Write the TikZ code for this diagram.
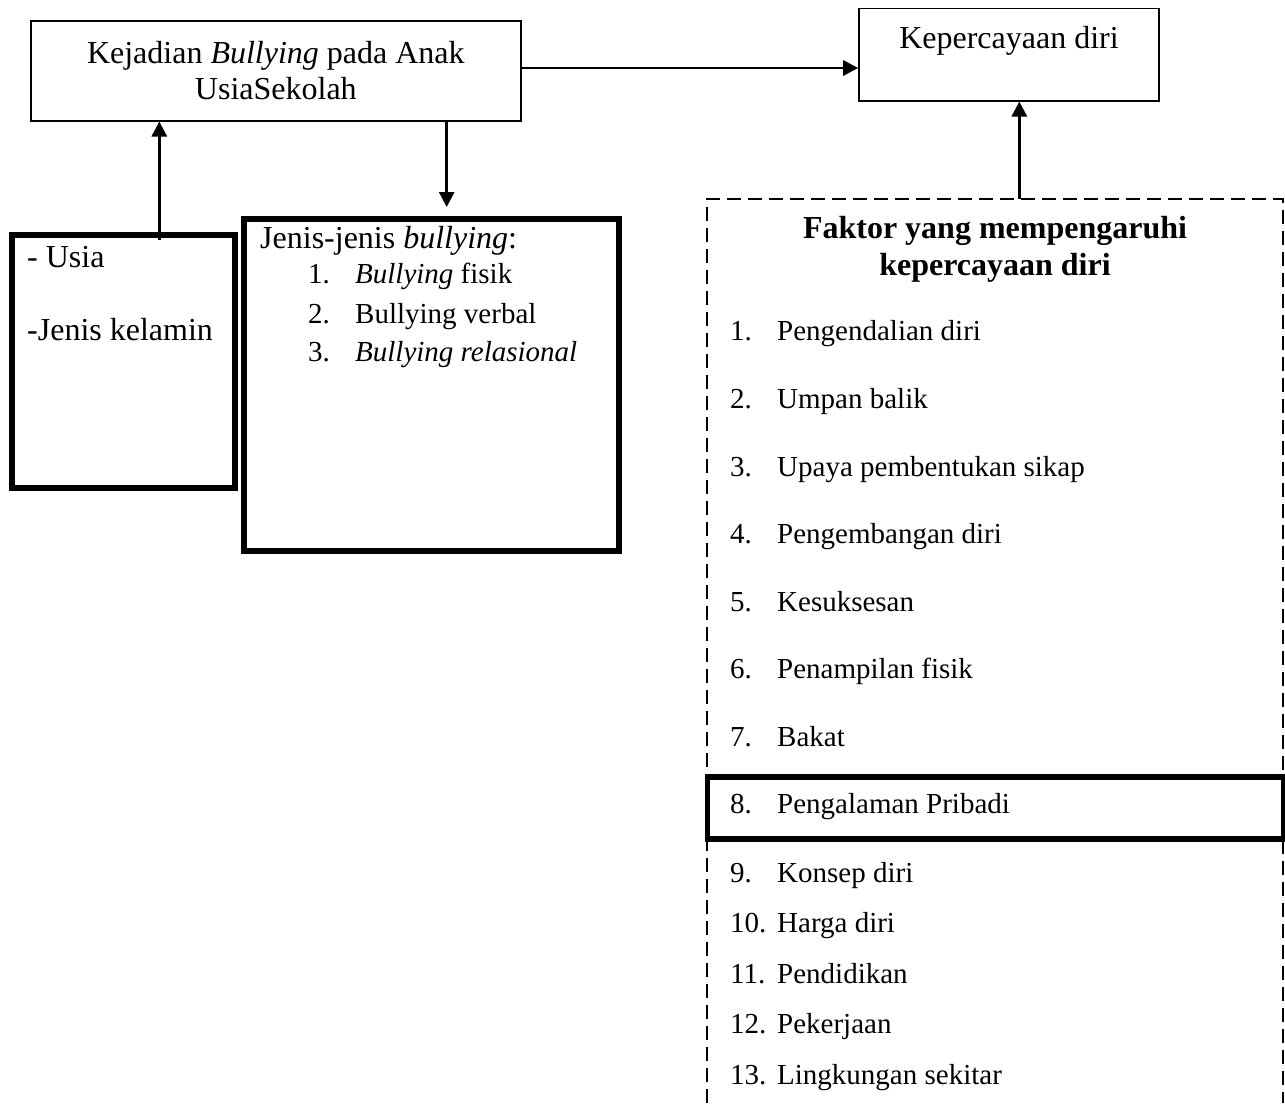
\documentclass[tikz,border=0pt]{standalone}
\usepackage{fontspec}
\setmainfont{Liberation Serif}
\usetikzlibrary{arrows.meta}
\newcommand\fbig{\fontsize{32}{36.7}\selectfont}
\newcommand\fsml{\fontsize{29}{33}\selectfont}
\begin{document}
\begin{tikzpicture}[x=1pt,y=-1pt,
  thinbox/.style={draw, line width=1.6pt, inner sep=0pt},
  thickbox/.style={draw, line width=6pt, inner sep=0pt},
  txt/.style={inner sep=0pt, anchor=base west},
  arr/.style={line width=2.8pt, -{Triangle[length=15pt,width=15pt]}},
  dashbox/.style={line width=2pt, dash pattern=on 14pt off 7pt}]
\useasboundingbox (0,0) rectangle (1285,1103);

% top boxes
\node[thinbox, minimum width=490.3pt, minimum height=100pt, align=center, font=\fbig]
  (kej) at (275.85,70.7) {Kejadian \textit{Bullying} pada Anak\\UsiaSekolah};
\node[thinbox, minimum width=300pt, minimum height=92.4pt] (kep) at (1009,54.5) {};
\node[inner sep=0pt, anchor=base, font=\fbig] (keptxt) at (1009,48.3) {Kepercayaan diri};

% left boxes
\node[thickbox, minimum width=222.7pt, minimum height=252.7pt] (usia) at (123.35,361.65) {};
\node[txt, font=\fbig] (usia1) at (27,267) {- Usia};
\node[txt, font=\fbig] (usia2) at (27,340) {-Jenis kelamin};

\node[thickbox, minimum width=374.7pt, minimum height=332.3pt] (jenis) at (431.35,384.85) {};
\node[txt, font=\fbig] (jt) at (260,248) {Jenis-jenis \textit{bullying}:};
\node[txt, font=\fsml] (jn1) at (308,283) {1.};
\node[txt, font=\fsml] (jx1) at (355,283) {\textit{Bullying} fisik};
\node[txt, font=\fsml] (jn2) at (308,323) {2.};
\node[txt, font=\fsml] (jx2) at (355,323) {Bullying verbal};
\node[txt, font=\fsml] (jn3) at (308,361) {3.};
\node[txt, font=\fsml] (jx3) at (355,361) {\textit{Bullying relasional}};

% dashed factor box
\draw[dashbox] (707.3,1103) coordinate (fbl) -- (707.3,199) coordinate (ftl)
  -- (1283.3,199) coordinate (ftr) -- (1283.3,1103) coordinate (fbr);
\node[draw, line width=5.5pt, inner sep=0pt, minimum width=576pt, minimum height=62pt]
  (peng) at (995.3,808) {};

\node[inner sep=0pt, anchor=base, font=\fbig\bfseries] (h1) at (995,238.3) {Faktor yang mempengaruhi};
\node[inner sep=0pt, anchor=base, font=\fbig\bfseries] (h2) at (995,275) {kepercayaan diri};

\foreach \i/\y/\t in {1/340/Pengendalian diri, 2/408/Umpan balik,
  3/476/Upaya pembentukan sikap, 4/543.5/Pengembangan diri, 5/611/Kesuksesan,
  6/678.5/Penampilan fisik, 7/746.5/Bakat, 8/813/Pengalaman Pribadi,
  9/882/Konsep diri, 10/932.5/Harga diri, 11/983/Pendidikan,
  12/1033.5/Pekerjaan, 13/1084/Lingkungan sekitar}{
  \node[txt, font=\fsml] (fn\i) at (730,\y) {\i.};
  \node[txt, font=\fsml] (ft\i) at (777,\y) {\t};
}

% connectors
\coordinate (a1) at ([yshift=2.7pt]kej.east);
\draw[arr] (a1) -- (a1 -| kep.west);
\coordinate (u1) at (159.3,240);
\draw[arr] (u1) -- (u1 |- kej.south);
\coordinate (d1) at (446.7,207);
\draw[arr] (d1 |- kej.south) -- (d1);
\coordinate (f1) at (1019.3,199);
\draw[arr] (f1) -- (f1 |- kep.south);
\end{tikzpicture}
\end{document}
